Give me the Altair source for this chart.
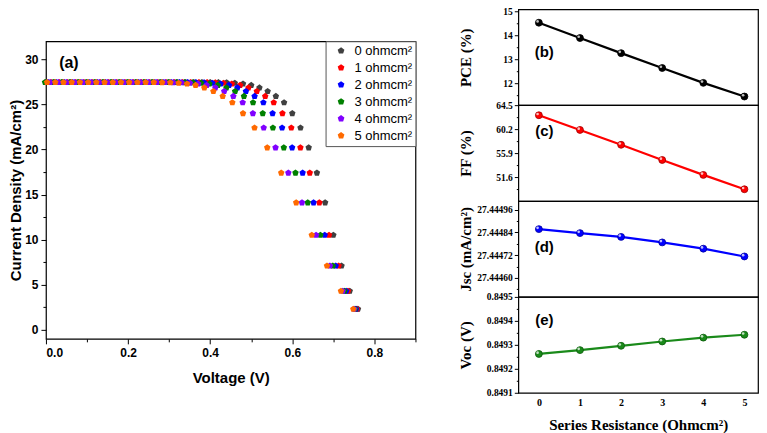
import altair as alt
import pandas as pd

# ---------------- panel (a): J-V curves ----------------
series_labels = ["0 ohmcm²", "1 ohmcm²", "2 ohmcm²", "3 ohmcm²", "4 ohmcm²", "5 ohmcm²"]
series_colors = ["#404040", "#ff0000", "#0000ff", "#008000", "#8000ff", "#ff6a00"]

J_vals = [27.44, 27.44, 27.44, 27.44, 27.44, 27.44, 27.44, 27.44, 27.44, 27.44,
          27.44, 27.44, 27.44, 27.44, 27.44, 27.44, 27.44, 27.44, 27.44, 27.44,
          27.44, 27.43, 27.41, 27.36, 27.28, 27.12, 26.85, 26.45, 25.90, 25.20,
          24.00, 22.40, 20.20, 17.40, 14.10, 10.50, 7.10, 4.30, 2.30]

V_0 = [0.00, 0.02, 0.04, 0.06, 0.08, 0.10, 0.12, 0.14, 0.16, 0.18,
       0.20, 0.22, 0.24, 0.26, 0.28, 0.30, 0.32, 0.34, 0.36, 0.38,
       0.40, 0.42, 0.44, 0.46, 0.48, 0.50, 0.52, 0.54, 0.56, 0.58,
       0.60, 0.62, 0.64, 0.66, 0.68, 0.70, 0.72, 0.74, 0.76]
V_1 = [-0.0274, -0.0074, 0.0126, 0.0326, 0.0526, 0.0726, 0.0926, 0.1126, 0.1326, 0.1526,
       0.1726, 0.1926, 0.2126, 0.2326, 0.2526, 0.2726, 0.2926, 0.3126, 0.3326, 0.3526,
       0.3726, 0.3926, 0.4126, 0.4326, 0.4527, 0.4729, 0.4932, 0.5136, 0.5341, 0.5548,
       0.5760, 0.5976, 0.6198, 0.6426, 0.6659, 0.6895, 0.7129, 0.7357, 0.7577]
V_2 = [-0.0549, -0.0349, -0.0149, 0.0051, 0.0251, 0.0451, 0.0651, 0.0851, 0.1051, 0.1251,
       0.1451, 0.1651, 0.1851, 0.2051, 0.2251, 0.2451, 0.2651, 0.2851, 0.3051, 0.3251,
       0.3451, 0.3651, 0.3852, 0.4053, 0.4254, 0.4458, 0.4663, 0.4871, 0.5082, 0.5296,
       0.5520, 0.5752, 0.5996, 0.6252, 0.6518, 0.6790, 0.7058, 0.7314, 0.7554]
V_3 = [-0.0823, -0.0623, -0.0423, -0.0223, -0.0023, 0.0177, 0.0377, 0.0577, 0.0777, 0.0977,
       0.1177, 0.1377, 0.1577, 0.1777, 0.1977, 0.2177, 0.2377, 0.2577, 0.2777, 0.2977,
       0.3177, 0.3377, 0.3578, 0.3779, 0.3982, 0.4186, 0.4395, 0.4607, 0.4823, 0.5044,
       0.5280, 0.5528, 0.5794, 0.6078, 0.6377, 0.6685, 0.6987, 0.7271, 0.7531]
V_4 = [-0.1098, -0.0898, -0.0698, -0.0498, -0.0298, -0.0098, 0.0102, 0.0302, 0.0502, 0.0702,
       0.0902, 0.1102, 0.1302, 0.1502, 0.1702, 0.1902, 0.2102, 0.2302, 0.2502, 0.2702,
       0.2902, 0.3103, 0.3304, 0.3506, 0.3709, 0.3915, 0.4126, 0.4342, 0.4564, 0.4792,
       0.5040, 0.5304, 0.5592, 0.5904, 0.6236, 0.6580, 0.6916, 0.7228, 0.7508]
V_5 = [-0.1372, -0.1172, -0.0972, -0.0772, -0.0572, -0.0372, -0.0172, 0.0028, 0.0228, 0.0428,
       0.0628, 0.0828, 0.1028, 0.1228, 0.1428, 0.1628, 0.1828, 0.2028, 0.2228, 0.2428,
       0.2628, 0.2829, 0.3030, 0.3232, 0.3436, 0.3644, 0.3858, 0.4078, 0.4305, 0.4540,
       0.4800, 0.5080, 0.5390, 0.5730, 0.6095, 0.6475, 0.6845, 0.7185, 0.7485]
V_series = [V_0, V_1, V_2, V_3, V_4, V_5]

x_ticks_a = [0.0, 0.1, 0.2, 0.3, 0.4, 0.5, 0.6, 0.7, 0.8, 0.9]
y_ticks_a = [0, 2.5, 5, 7.5, 10, 12.5, 15, 17.5, 20, 22.5, 25, 27.5, 30]

# ---------------- panels (b)-(e) ----------------
Rs = [0, 1, 2, 3, 4, 5]
PCE = [14.54, 13.90, 13.27, 12.65, 12.03, 11.46]
FF = [62.70, 60.08, 57.43, 54.72, 52.06, 49.50]
Jsc = [27.444857, 27.444836, 27.444816, 27.444787, 27.444754, 27.444713]
Voc = [0.849262, 0.849278, 0.849296, 0.849314, 0.849330, 0.849342]

pce_major = [12, 13, 14, 15]
pce_all = [11.5, 12, 12.5, 13, 13.5, 14, 14.5, 15]
ff_major = [51.6, 55.9, 60.2, 64.5]
ff_all = [49.45, 51.6, 53.75, 55.9, 58.05, 60.2, 62.35, 64.5]
jsc_major = [27.4446, 27.44472, 27.44484, 27.44496]
jsc_all = [27.44454, 27.4446, 27.44466, 27.44472, 27.44478, 27.44484, 27.4449, 27.44496]
voc_major = [0.8491, 0.8492, 0.8493, 0.8494, 0.8495]
voc_all = [0.8491, 0.84915, 0.8492, 0.84925, 0.8493, 0.84935, 0.8494, 0.84945, 0.8495]

SANS = "Liberation Sans"
SERIF = "Liberation Serif"
PENT = "M0,-1L0.951,-0.309L0.588,0.809L-0.588,0.809L-0.951,-0.309Z"

rows = []
for k, (lab, vs) in enumerate(zip(series_labels, V_series)):
    for i, (v, j) in enumerate(zip(vs, J_vals)):
        rows.append({"series": lab, "ord": k * 100 + i, "V": v, "J": j})
jv = pd.DataFrame(rows)

x_axis_a = alt.Axis(
    values=x_ticks_a, title="Voltage (V)",
    labelExpr="(round(datum.value*10) % 2 == 0 && datum.value < 0.85) ? format(datum.value, '.1f') : ''",
    tickSize={"condition": {"test": "round(datum.value*10) % 2 == 0", "value": 5}, "value": 3},
    labelFont=SANS, labelFontSize=12, labelFontWeight="bold", labelColor="black",
    titleFont=SANS, titleFontSize=15, titleFontWeight="bold", titleColor="black",
    tickColor="black", domain=False, grid=False, labelPadding=4, titlePadding=12,
)
y_axis_a = alt.Axis(
    values=y_ticks_a, title="Current Density (mA/cm²)",
    labelExpr="(datum.value % 5 == 0) ? format(datum.value, 'd') : ''",
    tickSize={"condition": {"test": "datum.value % 5 == 0", "value": 5}, "value": 3},
    labelFont=SANS, labelFontSize=12, labelFontWeight="bold", labelColor="black",
    titleFont=SANS, titleFontSize=15, titleFontWeight="bold", titleColor="black",
    tickColor="black", domain=False, grid=False, labelPadding=3, titleX=-22, titleBaseline="bottom",
)

pts = alt.Chart(jv).transform_filter("datum.V >= -0.004").mark_point(
    filled=True, shape=PENT, size=46, opacity=1, strokeWidth=0
).encode(
    x=alt.X("V:Q", scale=alt.Scale(domain=[0, 0.9], nice=False, zero=False), axis=x_axis_a),
    y=alt.Y("J:Q", scale=alt.Scale(domain=[-1, 32], nice=False, zero=False), axis=y_axis_a),
    color=alt.Color("series:N", scale=alt.Scale(domain=series_labels, range=series_colors),
                    legend=alt.Legend(title=None, orient="none", legendX=280, legendY=32, padding=3,
                                      symbolType=PENT, symbolSize=50, symbolStrokeWidth=0,
                                      labelFont=SANS, labelFontSize=13, labelColor="black",
                                      rowPadding=3, symbolOffset=6, labelOffset=7,
                                      strokeColor="#555555", fillColor="white", labelLimit=200)),
    order=alt.Order("ord:Q"),
)
lab_a = alt.Chart(pd.DataFrame({"t": ["(a)"]})).mark_text(
    font=SANS, fontSize=16, fontWeight="bold", color="black", align="center", baseline="middle"
).encode(x=alt.value(23), y=alt.value(22), text="t:N")

left = alt.layer(pts, lab_a).properties(width=370, height=298)

spacer = alt.Chart(pd.DataFrame({"a": [0]})).mark_point(opacity=0).encode(
    x=alt.X("a:Q", axis=None), y=alt.Y("a:Q", axis=None)
).properties(width=370, height=30, view=alt.ViewBackground(stroke="transparent"))

left_col = alt.vconcat(spacer, left, spacing=0)

df_r = pd.DataFrame({"Rs": Rs, "PCE": PCE, "FF": FF, "Jsc": Jsc, "Voc": Voc})


def panel(field, color, dark, domain, major, allt, fmt, title, tag, tag_y, bottom):
    maj = ",".join(repr(m) for m in major)
    yax = alt.Axis(
        values=allt, title=title,
        labelExpr=f"indexof([{maj}], datum.value) >= 0 ? format(datum.value, '{fmt}') : ''",
        tickSize={"condition": {"test": f"indexof([{maj}], datum.value) >= 0", "value": 4}, "value": 2},
        labelFont=SERIF, labelFontSize=9.5, labelFontWeight="bold", labelColor="black",
        titleFont=SERIF, titleFontSize=15, titleFontWeight="bold", titleColor="black",
        tickColor="black", domain=False, grid=False, labelPadding=2, titleX=-45, titleBaseline="bottom",
    )
    if bottom:
        xax = alt.Axis(values=Rs, format="d", title="Series Resistance (Ohmcm²)",
                       labelFont=SERIF, labelFontSize=10, labelFontWeight="bold", labelColor="black",
                       titleFont=SERIF, titleFontSize=15, titleFontWeight="bold", titleColor="black",
                       ticks=False, domain=False, grid=False, labelPadding=5, titlePadding=10)
    else:
        xax = None
    x = alt.X("Rs:Q", scale=alt.Scale(domain=[-0.5, 5.33], nice=False, zero=False), axis=xax)
    y = alt.Y(f"{field}:Q", scale=alt.Scale(domain=domain, nice=False, zero=False), axis=yax)
    base = alt.Chart(df_r).encode(x=x, y=y)
    line = base.mark_line(color=color, strokeWidth=2.2)
    ball = base.mark_circle(size=48, color=color, opacity=1, stroke=dark, strokeWidth=0.8)
    hl = base.mark_circle(size=7, color="white", opacity=0.75, xOffset=-1.3, yOffset=-1.3)
    tag_t = alt.Chart(pd.DataFrame({"t": [tag]})).mark_text(
        font=SANS, fontSize=15, fontWeight="bold", color="black", align="center", baseline="middle"
    ).encode(x=alt.value(26), y=alt.value(tag_y), text="t:N")
    return alt.layer(line, ball, hl, tag_t).properties(width=240, height=96)


pb = panel("PCE", "#000000", "#000000", [11.1, 15.1], pce_major, pce_all, "d", "PCE (%)", "(b)", 43, False)
pc = panel("FF", "#ff0000", "#a00000", [47.4, 64.5], ff_major, ff_all, ".1f", "FF (%)", "(c)", 26, False)
pd_ = panel("Jsc", "#0000ff", "#0000a0", [27.4445, 27.445005], jsc_major, jsc_all, ".5f", "Jsc (mA/cm²)", "(d)", 46, False)
pe = panel("Voc", "#1a8a1a", "#0a5a0a", [0.8491, 0.8495], voc_major, voc_all, ".4f", "Voc (V)", "(e)", 23, True)

right_col = alt.vconcat(pb, pc, pd_, pe, spacing=0, bounds="flush")

chart = alt.hconcat(left_col, right_col, spacing=40).properties(
    padding={"left": 0, "top": -3, "right": 0, "bottom": 0}
).configure(
    font=SANS, background="white",
    view=alt.ViewConfig(stroke="black", strokeWidth=1.2),
)

chart.save("out.html", embed_options={"renderer": "svg", "actions": False})
